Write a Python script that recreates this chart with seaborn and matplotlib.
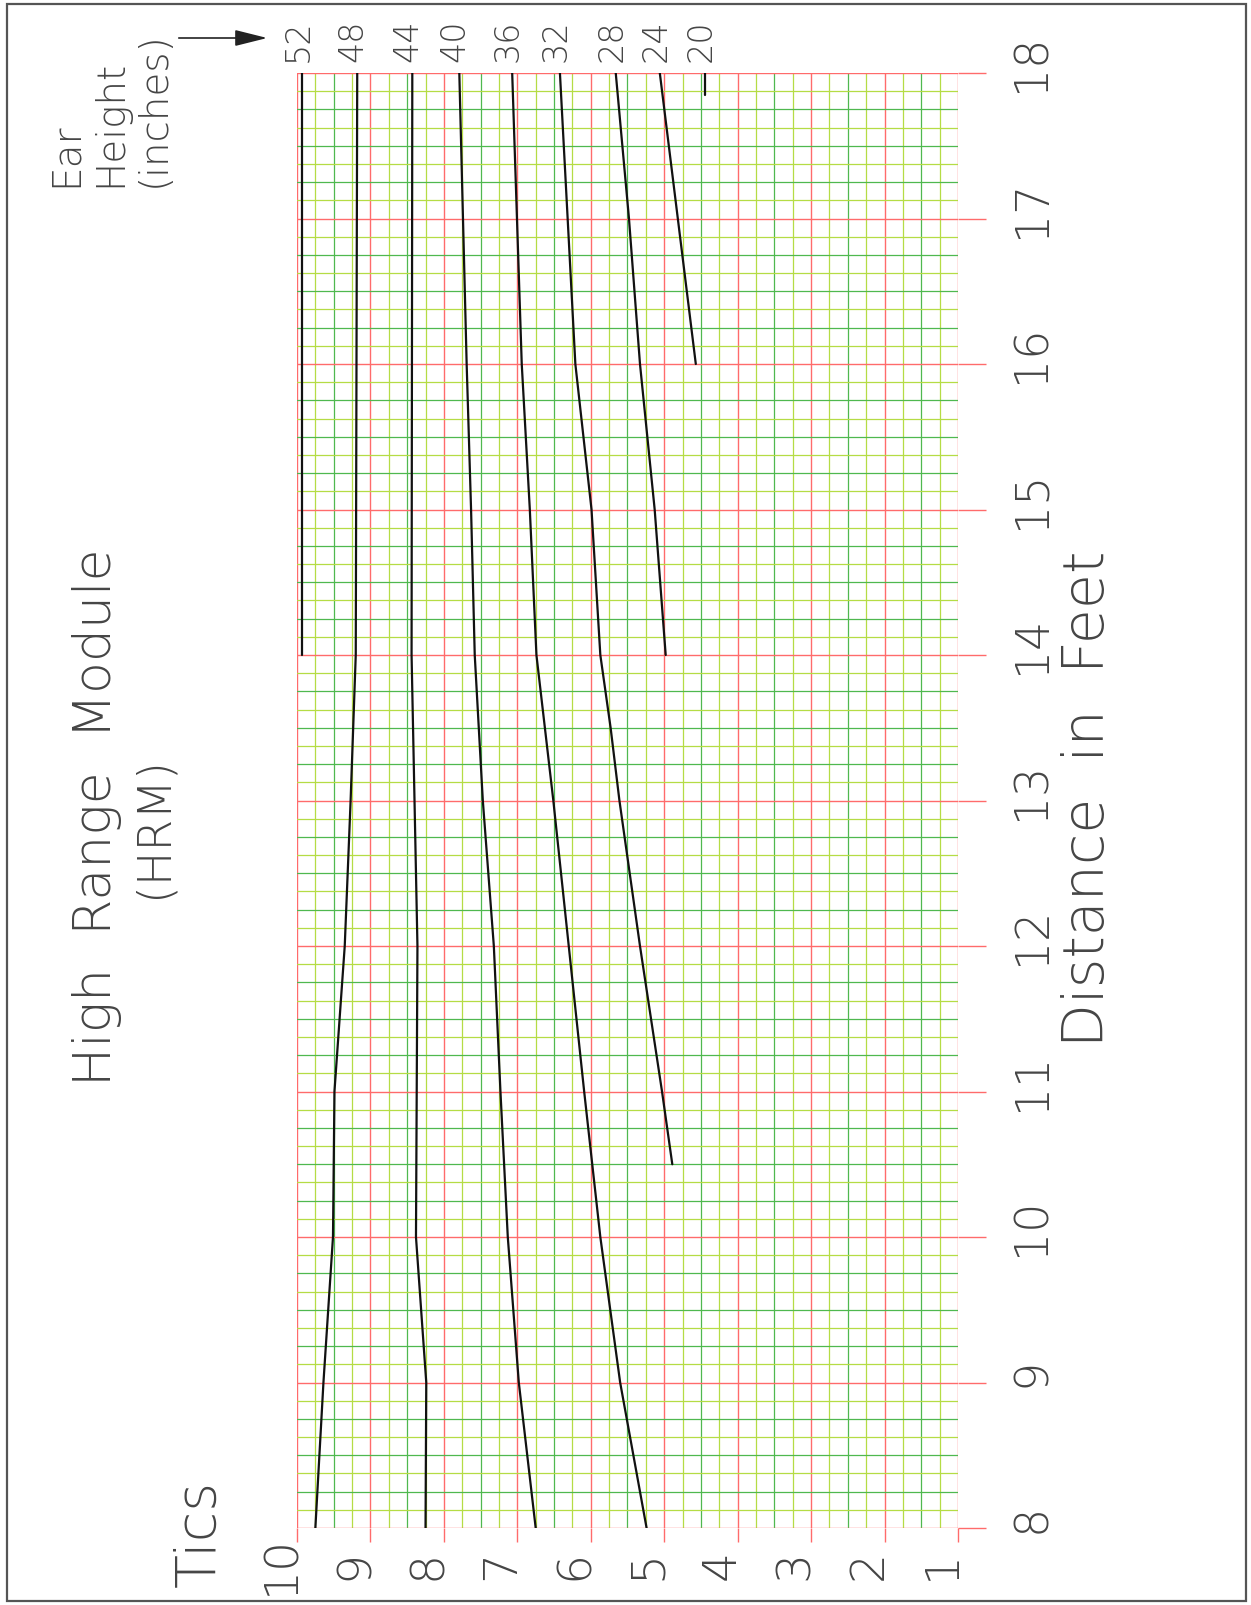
import numpy as np
import pandas as pd
import matplotlib
matplotlib.use("Agg")
import matplotlib.pyplot as plt
import seaborn as sns
from matplotlib.patches import Rectangle, FancyArrowPatch

# ---------------- data (Tics read at distances in feet) ----------------
ear_heights = [52, 48, 44, 40, 36, 32, 28, 24, 20]

dist_52 = [14, 18]
tics_52 = [9.93, 9.93]

dist_48 = [8, 9, 10, 11, 12, 13, 14, 18]
tics_48 = [9.75, 9.64, 9.51, 9.49, 9.35, 9.27, 9.20, 9.18]

dist_44 = [8, 9, 10, 11, 12, 13, 14, 18]
tics_44 = [8.25, 8.24, 8.38, 8.37, 8.36, 8.40, 8.44, 8.43]

dist_40 = [8, 9, 10, 11, 12, 13, 14, 15, 16, 18]
tics_40 = [6.75, 6.98, 7.13, 7.23, 7.32, 7.47, 7.58, 7.63, 7.69, 7.79]

dist_36 = [8, 9, 10, 11, 12, 13, 14, 15, 16, 18]
tics_36 = [5.24, 5.60, 5.87, 6.09, 6.30, 6.51, 6.74, 6.83, 6.94, 7.07]

dist_32 = [10.5, 11, 12, 13, 13.5, 14, 15, 16, 18]
tics_32 = [4.89, 5.03, 5.33, 5.61, 5.73, 5.87, 5.99, 6.21, 6.42]

dist_28 = [14, 15, 16, 17, 18]
tics_28 = [4.98, 5.13, 5.33, 5.48, 5.66]

dist_24 = [16, 18]
tics_24 = [4.57, 5.06]

dist_20 = [17.85, 18]
tics_20 = [4.44, 4.44]

tic_ticks = [10, 9, 8, 7, 6, 5, 4, 3, 2, 1]
tic_labels = ["10", "9", "8", "7", "6", "5", "4", "3", "2", "1"]
dist_ticks = [8, 9, 10, 11, 12, 13, 14, 15, 16, 17, 18]
dist_labels = ["8", "9", "10", "11", "12", "13", "14", "15", "16", "17", "18"]

title_text = "High  Range  Module"
subtitle_text = "(HRM)"
x_title = "Distance  in  Feet"
y_title = "Tics"
ear_title = ["Ear", "Height", "(inches)"]

# ---------------- build long-form table ----------------
curves = [
    (52, dist_52, tics_52), (48, dist_48, tics_48), (44, dist_44, tics_44),
    (40, dist_40, tics_40), (36, dist_36, tics_36), (32, dist_32, tics_32),
    (28, dist_28, tics_28), (24, dist_24, tics_24), (20, dist_20, tics_20),
]
rows = []
for h, d, t in curves:
    for di, ti in zip(d, t):
        rows.append({"ear": h, "distance": di, "tics": ti})
df = pd.DataFrame(rows)

# ---------------- style ----------------
sns.set_theme(style="white")
plt.rcParams["font.family"] = ["DejaVu Sans"]
TXT = "#454545"
FW = "light"
RED = "#ff6b6b"
GREEN_A = "#4fb84f"
GREEN_B = "#b5dc45"

W, H = 1251, 1606
fig = plt.figure(figsize=(W / 100, H / 100), dpi=100)
fig.patch.set_facecolor("white")

ax_l, ax_r, ax_t, ax_b = 297, 958, 74, 1529
ax = fig.add_axes([ax_l / W, 1 - ax_b / H, (ax_r - ax_l) / W, (ax_b - ax_t) / H])
ax.set_facecolor("white")

ax.set_xlim(10, 1)
ax.set_ylim(8, 18)

ax.set_xticks(tic_ticks)
ax.set_xticks(np.arange(1, 10.001, 0.25), minor=True)
ax.set_yticks(dist_ticks)
ax.set_yticks(np.arange(8, 18.001, 0.125), minor=True)

ax.grid(which="minor", color=GREEN_A, lw=0.9, zorder=0)
ax.grid(which="major", color=RED, lw=1.0, zorder=0.5)
ax.set_axisbelow(True)

# alternate minor grid colours
for axis, step in ((ax.xaxis, 0.25), (ax.yaxis, 0.125)):
    locs = axis.get_minorticklocs()
    ticks = axis.get_minor_ticks(len(locs))
    for loc, tk in zip(locs, ticks):
        k = int(round(loc / step))
        tk.gridline.set_color(GREEN_B if k % 2 else GREEN_A)

for s in ax.spines.values():
    s.set_visible(False)

ax.tick_params(axis="x", which="major", bottom=True, top=False, direction="out",
               length=10, width=1.0, color=RED, labelbottom=False)
ax.tick_params(axis="y", which="major", left=False, right=True, direction="out",
               length=20, width=1.0, color=RED, labelleft=False, labelright=False)
ax.tick_params(which="minor", length=0)

# ---------------- curves ----------------
sns.lineplot(data=df, x="tics", y="distance", units="ear", estimator=None,
             sort=False, color="#111111", linewidth=1.6, ax=ax, legend=False)
ax.set_xlabel("")
ax.set_ylabel("")

# ---------------- labels ----------------
for v, lab in zip(tic_ticks, tic_labels):
    ax.annotate(lab, xy=(v, 8), xycoords="data", xytext=(-3, -36),
                textcoords="offset pixels", rotation=90, rotation_mode="anchor",
                ha="center", va="baseline", fontsize=34, color=TXT,
                fontweight=FW, annotation_clip=False)

for v, lab in zip(dist_ticks, dist_labels):
    ax.annotate(lab, xy=(1, v), xycoords="data", xytext=(87, 11),
                textcoords="offset pixels", rotation=90, rotation_mode="anchor",
                ha="center", va="baseline", fontsize=33, color=TXT,
                fontweight=FW, annotation_clip=False)

for h, d, t in curves:
    ax.annotate(str(h), xy=(t[-1], d[-1]), xycoords="data", xytext=(-4, 33),
                textcoords="offset pixels", rotation=90, rotation_mode="anchor",
                ha="center", va="center", fontsize=24, color=TXT,
                fontweight=FW, annotation_clip=False)

def ftext(xpx, ypx, s, size, ha="center"):
    fig.text(xpx / W, 1 - ypx / H, s, rotation=90, rotation_mode="anchor",
             ha=ha, va="baseline", fontsize=size, color=TXT, fontweight=FW)

ftext(111, 817, title_text, 37.5)
ftext(166, 827, subtitle_text, 33)
ftext(1104, 799, x_title, 41)
ftext(215, 1533, "T i c s".replace(" ", ""), 40)
for i, line in enumerate(ear_title):
    ftext(77 + 44 * i, 187, line, 28, ha="left")

fig.add_artist(FancyArrowPatch(
    (176 / W, 1 - 39 / H), (270 / W, 1 - 39 / H), transform=fig.transFigure,
    arrowstyle="-|>,head_length=1.0,head_width=0.25", mutation_scale=20,
    lw=1.2, color="#222222"))

fig.add_artist(Rectangle((7 / W, 4 / H), (1246 - 7) / W, (1601 - 4) / H,
                         transform=fig.transFigure, fill=False,
                         edgecolor="#555555", lw=1.6))

fig.savefig("out.png", dpi=100)
